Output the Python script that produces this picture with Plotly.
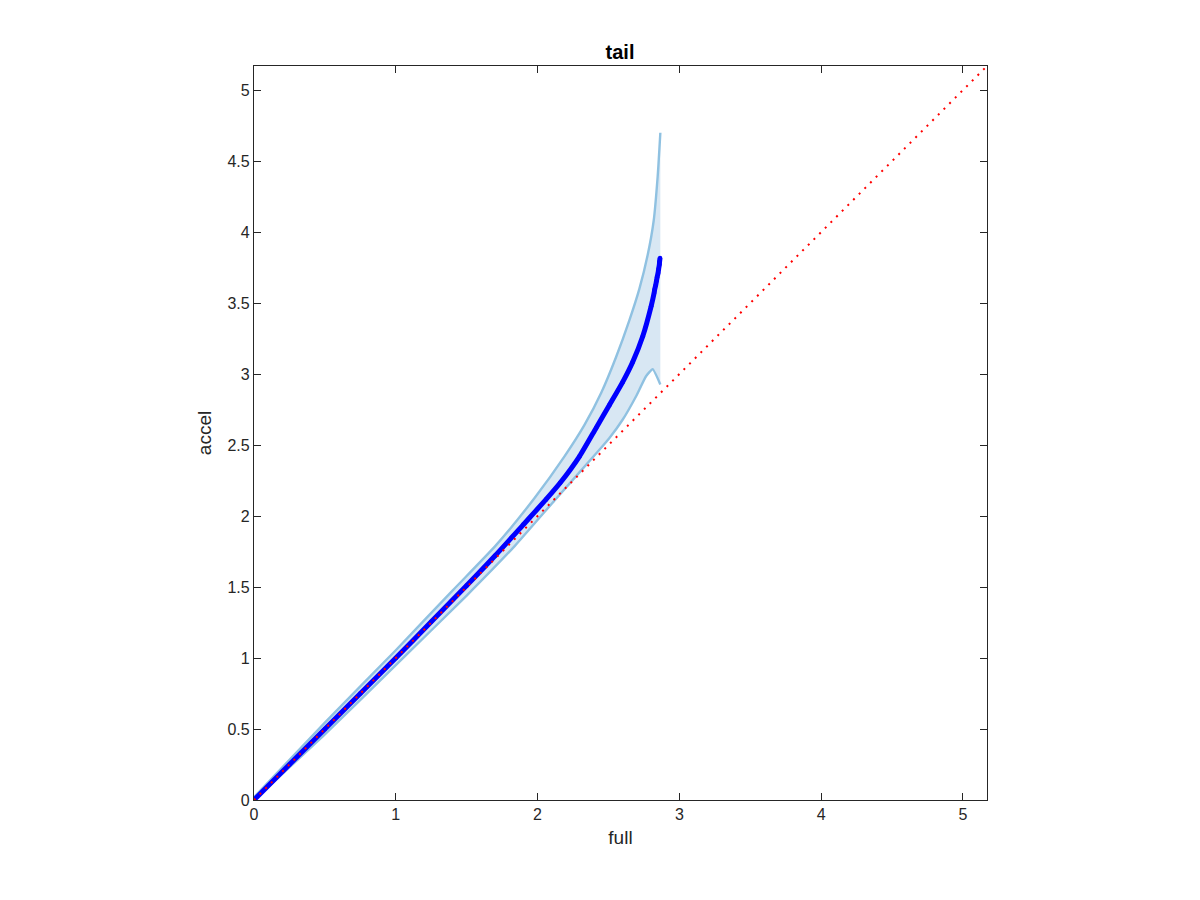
import plotly.graph_objects as go

# Blue quantile curve (full vs accel)
curve_x = [0.0, 0.25, 0.5, 0.75, 1.0, 1.25, 1.5, 1.7, 1.9, 2.06, 2.16, 2.296, 2.413, 2.507,
           2.601, 2.671, 2.742, 2.801, 2.822, 2.826, 2.833, 2.838, 2.843, 2.850, 2.854, 2.859, 2.861, 2.864]
curve_y = [0.0, 0.25, 0.5, 0.75, 1.0, 1.255, 1.51, 1.72, 1.94, 2.117, 2.234, 2.421, 2.621, 2.782,
           2.945, 3.085, 3.266, 3.477, 3.571, 3.595, 3.625, 3.653, 3.681, 3.712, 3.740, 3.771, 3.794, 3.818]

# Confidence band edges
upper_x = [0.0, 0.5, 1.0, 1.4, 1.709, 1.979, 2.19, 2.33, 2.45, 2.554, 2.648, 2.718, 2.777, 2.819, 2.847, 2.866]
upper_y = [0.02, 0.545, 1.055, 1.475, 1.797, 2.127, 2.42, 2.64, 2.87, 3.12, 3.38, 3.60, 3.84, 4.08, 4.39, 4.70]
lower_x = [0.0, 0.5, 1.0, 1.5, 1.84, 2.12, 2.43, 2.507, 2.601, 2.695, 2.765, 2.812, 2.866]
lower_y = [0.0, 0.462, 0.95, 1.44, 1.79, 2.11, 2.46, 2.55, 2.68, 2.844, 2.985, 3.035, 2.927]

# Reference diagonal
diag_x = [0.0, 5.17]
diag_y = [0.0, 5.17]

x_ticks = [0, 1, 2, 3, 4, 5]
y_ticks = [0, 0.5, 1, 1.5, 2, 2.5, 3, 3.5, 4, 4.5, 5]
y_tick_text = ["0", "0.5", "1", "1.5", "2", "2.5", "3", "3.5", "4", "4.5", "5"]
axis_range = [0, 5.17]

FONT = "Liberation Sans, Arial, Helvetica, sans-serif"
AX = "#262626"

fig = go.Figure()

poly_x = upper_x + lower_x[::-1]
poly_y = upper_y + lower_y[::-1]
fig.add_trace(go.Scatter(x=poly_x, y=poly_y, fill="toself", mode="lines",
                         fillcolor="#d8e7f3", line=dict(width=0, color="rgba(0,0,0,0)"),
                         hoverinfo="skip", showlegend=False))
fig.add_trace(go.Scatter(x=upper_x, y=upper_y, mode="lines",
                         line=dict(color="#8fc1e1", width=2.4, shape="spline", smoothing=0.6), showlegend=False))
fig.add_trace(go.Scatter(x=lower_x, y=lower_y, mode="lines",
                         line=dict(color="#8fc1e1", width=2.4, shape="spline", smoothing=0.4), showlegend=False))
fig.add_trace(go.Scatter(x=curve_x, y=curve_y, mode="lines+markers",
                         line=dict(color="#0000ff", width=5, shape="spline", smoothing=0.6),
                         marker=dict(color="#0000ff", size=4.5), showlegend=False))
fig.add_trace(go.Scatter(x=diag_x, y=diag_y, mode="lines",
                         line=dict(color="#ff0000", width=2, dash="2px,6px"), showlegend=False))

axis_common = dict(range=axis_range, showline=True, linecolor=AX, linewidth=1.3,
                   mirror="ticks", ticks="inside", ticklen=7, tickwidth=1.3, tickcolor=AX,
                   showgrid=False, zeroline=False,
                   tickfont=dict(family=FONT, size=16, color=AX))

fig.update_xaxes(**axis_common, tickvals=x_ticks, ticktext=[str(t) for t in x_ticks],
                 title=dict(text="full", font=dict(family=FONT, size=19, color=AX), standoff=8))
fig.update_yaxes(**axis_common, tickvals=y_ticks, ticktext=y_tick_text,
                 title=dict(text="accel", font=dict(family=FONT, size=19, color=AX), standoff=10))

fig.update_layout(
    width=1200, height=900,
    margin=dict(l=246, r=221, t=58, b=108),
    paper_bgcolor="white", plot_bgcolor="white",
    title=dict(text="<b>tail</b>", x=(620 - 8) / 1200, xanchor="center", y=1 - 44 / 900, yanchor="middle",
               font=dict(family=FONT, size=20, color="#000000")),
)

fig.write_html("out.html")
